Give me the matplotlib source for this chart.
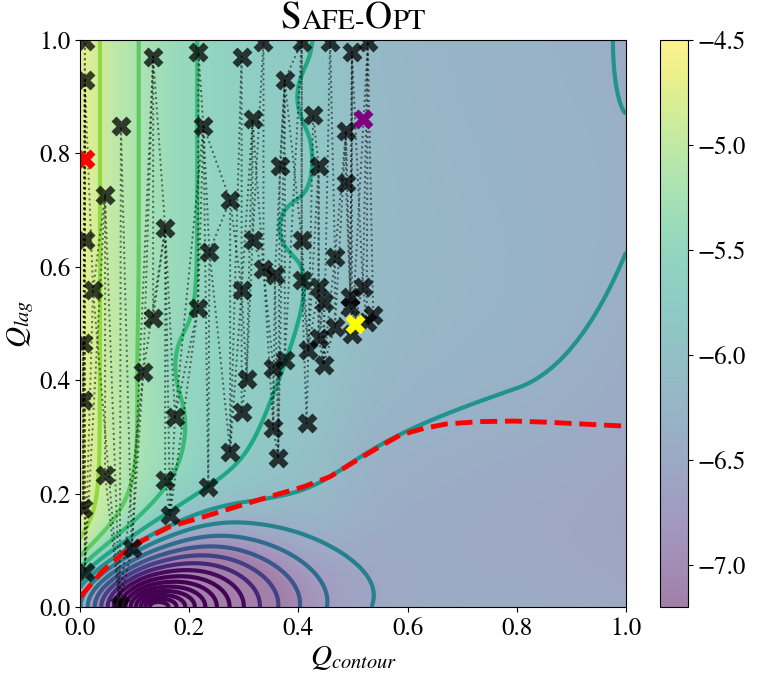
import numpy as np
import matplotlib
matplotlib.use('Agg')
import matplotlib.pyplot as plt
from matplotlib.colors import Normalize
from matplotlib.offsetbox import TextArea, HPacker, AnchoredOffsetbox

plt.rcParams['font.family'] = 'serif'
plt.rcParams['font.serif'] = ['STIXGeneral', 'Liberation Serif', 'DejaVu Serif']
plt.rcParams['mathtext.fontset'] = 'stix'

# GP mean surface, shape
trend_base, trend_amp, trend_len, trend_slope = -5.85, 1.15, 0.2, 0.2
well_x, well_kx_left, well_r0, well_R, well_p = 0.14, 1.42, 0.15, 0.517, 4.2
well_sig_base, well_sig_amp, well_sig_x = 0.27, 0.28, 0.3
dip_amp, dip_x, dip_k, dip_y, dip_wy = 0.33, 0.34, 0.06, 0.12, 0.255
corner_amp = 0.12
ripple_x = [0.37, 0.41, 0.17]
ripple_y = [0.67, 0.90, 0.43]
ripple_amp = [-0.06, -0.03, -0.09]
ripple_w = [(0.05, 0.07), (0.04, 0.06), (0.04, 0.10)]
# shaded background falls off to the prior mean outside the sampled area
shade_drop, shade_x, shade_k = -0.32, 0.48, 0.03

levels = np.linspace(-10.0, -4.9, 18)
cbar_ticks = [-7.0, -6.5, -6.0, -5.5, -5.0, -4.5]

# sampled parameters
samples_x = [0.009, 0.134, 0.217, 0.296, 0.336, 0.406, 0.458, 0.498, 0.527,
             0.009, 0.375, 0.427, 0.316, 0.075, 0.226, 0.487, 0.366, 0.437,
             0.487, 0.046, 0.275, 0.156, 0.316, 0.009, 0.237, 0.406, 0.467,
             0.336, 0.357, 0.024, 0.296, 0.406, 0.437, 0.518, 0.446, 0.495,
             0.216, 0.134, 0.495, 0.537, 0.525, 0.498, 0.467, 0.437, 0.418,
             0.375, 0.446, 0.354, 0.006, 0.116, 0.305, 0.006, 0.296, 0.174,
             0.354, 0.415, 0.275, 0.363, 0.046, 0.156, 0.235, 0.006, 0.165,
             0.095, 0.009, 0.073]
samples_y = [0.998, 0.971, 0.979, 0.971, 0.997, 0.997, 0.997, 0.979, 0.997,
             0.929, 0.929, 0.868, 0.860, 0.848, 0.848, 0.840, 0.778, 0.778,
             0.748, 0.727, 0.718, 0.668, 0.647, 0.647, 0.627, 0.647, 0.617,
             0.597, 0.586, 0.559, 0.559, 0.577, 0.565, 0.565, 0.538, 0.547,
             0.527, 0.509, 0.530, 0.515, 0.503, 0.482, 0.494, 0.474, 0.453,
             0.436, 0.427, 0.421, 0.465, 0.415, 0.403, 0.365, 0.344, 0.336,
             0.315, 0.324, 0.274, 0.262, 0.233, 0.224, 0.212, 0.174, 0.162,
             0.104, 0.062, 0.004]

start_x, start_y = 0.009, 0.791
best_x, best_y = 0.518, 0.861
opt_x, opt_y = 0.504, 0.500

# safe-set boundary
safe_x = [0.0, 0.006, 0.04, 0.079, 0.104, 0.165, 0.226, 0.287, 0.348, 0.409,
          0.458, 0.507, 0.549, 0.586, 0.629, 0.672, 0.733, 0.794, 0.855,
          0.916, 1.0]
safe_y = [0.018, 0.024, 0.062, 0.095, 0.112, 0.142, 0.159, 0.177, 0.195,
          0.212, 0.23, 0.259, 0.283, 0.303, 0.315, 0.323, 0.327, 0.328,
          0.326, 0.323, 0.319]

g = np.linspace(0, 1, 501)
X, Y = np.meshgrid(g, g)
trend = trend_base + trend_amp * np.exp(-X / trend_len) - trend_slope * X
dx = X - well_x
kx = np.where(dx < 0, well_kx_left, 1.0)
sig_w = np.where(X < well_sig_x, 0.24, 0.3)
sig = well_sig_base + well_sig_amp * np.exp(-((X - well_sig_x) / sig_w) ** 2)
r = np.sqrt((dx * kx) ** 2 + (Y / sig) ** 2)
u = (r + well_r0) / well_R
well = well_p * (np.log(u) - np.log1p(u ** 8) / 8)
wy = dip_wy + 3.2 * np.clip(X - 0.8, 0, None) ** 2
dip = -dip_amp / (1 + np.exp(-(X - dip_x) / dip_k)) * np.exp(-((Y - dip_y) / wy) ** 2)
corner = -corner_amp * np.exp(-((X - 1) / 0.03) ** 2 - ((Y - 1) / 0.14) ** 2)
Z = trend + well + dip + corner
for cx, cy, a, (wx_, wy_) in zip(ripple_x, ripple_y, ripple_amp, ripple_w):
    Z += a * np.exp(-((X - cx) / wx_) ** 2 - ((Y - cy) / wy_) ** 2)
shade = Z + shade_drop * (0.6 + 0.4 * Y) / (1 + np.exp(-(X - shade_x) / shade_k))

fig = plt.figure(figsize=(7.58, 6.79), dpi=100)
ax = fig.add_axes([0.1055, 0.106, 0.7205, 0.835])
cax = fig.add_axes([0.8707, 0.106, 0.037, 0.835])

im = ax.imshow(shade, extent=(0, 1, 0, 1), origin='lower', cmap='viridis',
               vmin=-7.2, vmax=-4.5, alpha=0.5, aspect='auto')
ax.contour(X, Y, Z, levels=levels, cmap='viridis', norm=Normalize(-8.0, -4.3),
           linewidths=3)

order = np.argsort(samples_x, kind='stable')
px = np.array(samples_x)[order]
py = np.array(samples_y)[order]
ax.plot(px, py, ':', color='k', lw=1.4, alpha=0.55)
ax.plot(px[0::2], py[0::2], ':', color='k', lw=1.4, alpha=0.55)
ax.plot(px[1::3], py[1::3], ':', color='k', lw=1.4, alpha=0.55)
ax.plot(safe_x, safe_y, '--', color='red', lw=3.5, dashes=(3.5, 1.6))
ax.plot(samples_x, samples_y, 'X', color='k', ms=14, alpha=0.75, mec='none')
ax.plot(start_x, start_y, 'X', color='red', ms=14, mec='none')
ax.plot(best_x, best_y, 'X', color='purple', ms=14, mec='none')
ax.plot(opt_x, opt_y, 'X', color='yellow', ms=14, mec='none')

ax.set_xlim(0, 1)
ax.set_ylim(0, 1)
ax.set_xticks([0.0, 0.2, 0.4, 0.6, 0.8, 1.0])
ax.set_yticks([0.0, 0.2, 0.4, 0.6, 0.8, 1.0])
ax.tick_params(labelsize=18)
ax.set_xlabel(r'$Q_{contour}$', fontsize=21, labelpad=2)
ax.set_ylabel(r'$Q_{lag}$', fontsize=21, labelpad=2)

cb = fig.colorbar(im, cax=cax, ticks=cbar_ticks)
cb.ax.tick_params(labelsize=18)
cb.outline.set_linewidth(0.8)

parts = [('S', 27), ('AFE-', 20.5), ('O', 27), ('PT', 20.5)]
boxes = [TextArea(s, textprops=dict(fontsize=fs)) for s, fs in parts]
pack = HPacker(children=boxes, align='baseline', pad=0, sep=0)
title = AnchoredOffsetbox(loc='lower center', child=pack, bbox_to_anchor=(0.5, 1.006),
                          bbox_transform=ax.transAxes, frameon=False, pad=0, borderpad=0)
ax.add_artist(title)

fig.savefig('out.png', dpi=100)
